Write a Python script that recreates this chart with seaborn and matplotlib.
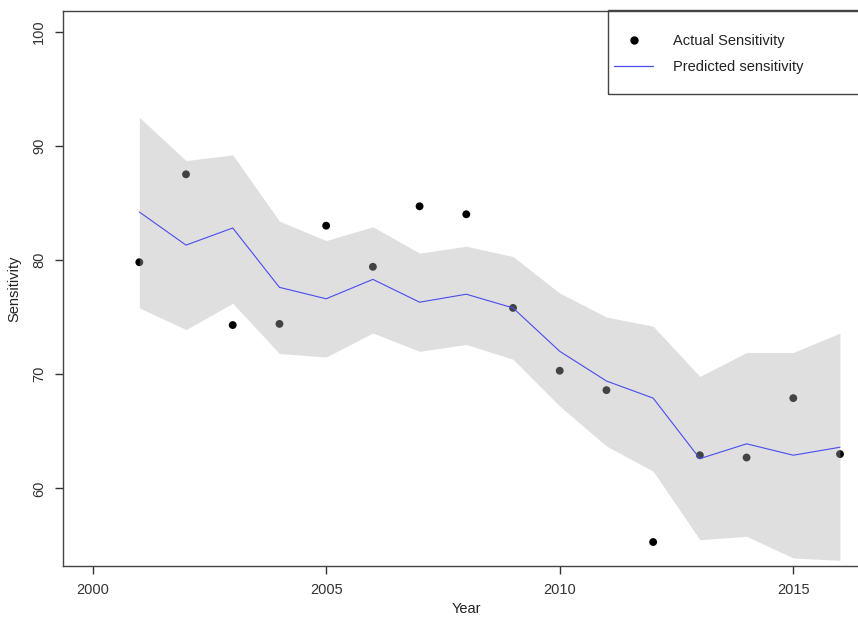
import numpy as np
import pandas as pd
import seaborn as sns
import matplotlib.pyplot as plt
from matplotlib.lines import Line2D
from matplotlib.patches import Rectangle

years = list(range(2001, 2017))
actual = [79.8, 87.5, 74.3, 74.4, 83.0, 79.4, 84.7, 84.0,
          75.8, 70.3, 68.6, 55.3, 62.9, 62.7, 67.9, 63.0]
predicted = [84.2, 81.3, 82.8, 77.6, 76.6, 78.3, 76.3, 77.0,
             75.8, 72.0, 69.4, 67.9, 62.6, 63.9, 62.9, 63.6]
upper = [92.5, 88.7, 89.2, 83.4, 81.7, 82.9, 80.6, 81.2,
         80.3, 77.1, 75.0, 74.2, 69.8, 71.9, 71.9, 73.6]
lower = [75.8, 73.9, 76.2, 71.8, 71.5, 73.6, 72.0, 72.6,
         71.3, 67.2, 63.7, 61.5, 55.5, 55.8, 53.9, 53.7]

df = pd.DataFrame({'Year': years, 'Actual': actual, 'Predicted': predicted,
                   'Upper': upper, 'Lower': lower})

sns.set_style('ticks')
plt.rcParams['font.family'] = ['Liberation Sans', 'DejaVu Sans']
plt.rcParams['text.color'] = '#222222'
plt.rcParams['axes.labelcolor'] = '#222222'
plt.rcParams['xtick.color'] = '#333333'
plt.rcParams['ytick.color'] = '#333333'

W, H = 858, 617
fig = plt.figure(figsize=(W / 100, H / 100), dpi=100)
ax = fig.add_axes([62.7 / W, 51 / H, (869.9 - 62.7) / W, 555 / H])

# points first, then the translucent band over them, then the line
sns.scatterplot(data=df, x='Year', y='Actual', ax=ax, color='black',
                s=32, edgecolor='none', zorder=1)
ax.fill_between(df['Year'], df['Lower'], df['Upper'], color='#afafaf',
                alpha=0.39, linewidth=0, zorder=2)
sns.lineplot(data=df, x='Year', y='Predicted', ax=ax, color='#4b4bf0',
             linewidth=0.8, zorder=3)

ax.set_xlim(1999.36, 2016.64)
ax.set_ylim(53.2, 101.8)
ax.set_xticks([2000, 2005, 2010, 2015])
ax.set_yticks([60, 70, 80, 90, 100])
ax.tick_params(axis='both', labelsize=10.5, length=6, width=1, pad=6)
for lbl in ax.get_yticklabels():
    lbl.set_rotation(90)
    lbl.set_va('center')
ax.set_xlabel('Year', fontsize=10.5, labelpad=4)
ax.set_ylabel('Sensitivity', fontsize=10.5, labelpad=8)
for sp in ax.spines.values():
    sp.set_color('#444444')
    sp.set_linewidth(1)

# legend box (extends past the right edge like the reference)
fig.patches.append(Rectangle((608 / W, 1 - 94 / H), 300 / W, 84 / H,
                             transform=fig.transFigure, fill=False,
                             edgecolor='#444444', linewidth=1, zorder=5))
handles = [
    Line2D([], [], marker='o', color='black', linestyle='none', markersize=5),
    Line2D([], [], color='#4b4bf0', linewidth=0.9),
]
ax.legend(handles, ['Actual Sensitivity', 'Predicted sensitivity'],
          loc='center left', bbox_to_anchor=(614 / W, 1 - 54 / H),
          bbox_transform=fig.transFigure, frameon=False, fontsize=10.5,
          handlelength=2.7, handletextpad=1.35, labelspacing=0.85,
          borderpad=0, borderaxespad=0)

fig.savefig('out.png', dpi=100)
